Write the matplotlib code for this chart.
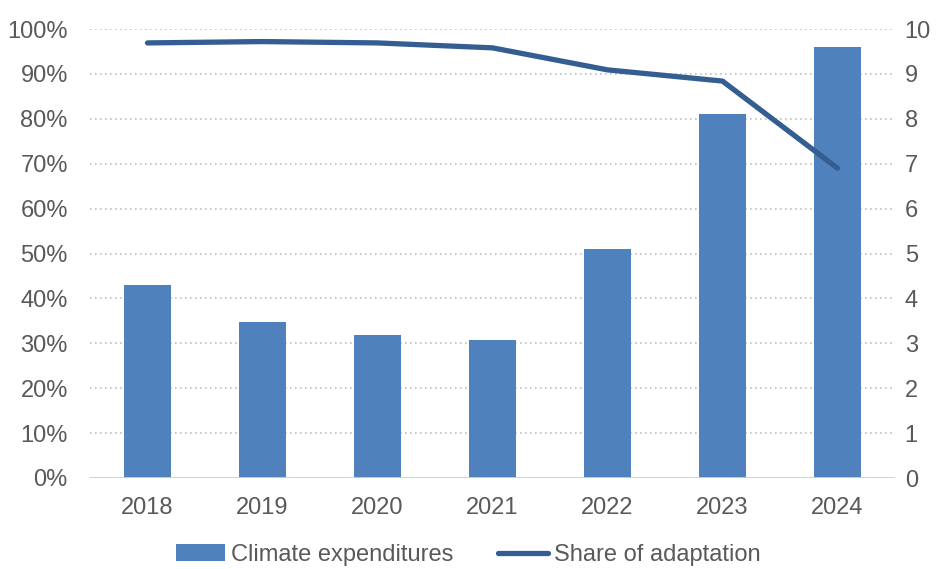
import matplotlib.pyplot as plt
from matplotlib.ticker import PercentFormatter

years = ["2018", "2019", "2020", "2021", "2022", "2023", "2024"]
climate_expenditures = [4.3, 3.47, 3.18, 3.07, 5.1, 8.1, 9.6]
share_of_adaptation = [96.9, 97.2, 96.9, 95.8, 90.9, 88.4, 69.0]

plt.rcParams['font.family'] = ['Liberation Sans', 'DejaVu Sans']
bar_color = '#4F81BD'
line_color = '#345D91'
text_color = '#595959'

fig = plt.figure(figsize=(9.36, 5.69), dpi=100)
ax = fig.add_axes([90 / 936, 1 - 478 / 569, 805 / 936, 449 / 569])
ax2 = ax.twinx()

# bars belong to the right axis, line to the left one
x = list(range(len(years)))
ax2.bar(x, climate_expenditures, width=0.41, color=bar_color, zorder=2,
        label="Climate expenditures")
ax.plot(x, share_of_adaptation, color=line_color, linewidth=3.8,
        solid_capstyle='round', label="Share of adaptation")

ax.set_zorder(ax2.get_zorder() + 1)
ax.patch.set_visible(False)

ax.set_ylim(0, 100)
ax2.set_ylim(0, 10)
ax.set_xlim(-0.5, len(years) - 0.5)
ax.set_yticks(range(0, 101, 10))
ax2.set_yticks(range(0, 11))
ax.yaxis.set_major_formatter(PercentFormatter(decimals=0))
ax.set_xticks(x)
ax.set_xticklabels(years)

for a in (ax, ax2):
    for s in a.spines.values():
        s.set_visible(False)
    a.tick_params(length=0, labelsize=17, labelcolor=text_color)

ax.tick_params(axis='y', pad=16)
ax2.tick_params(axis='y', pad=7)
ax.tick_params(axis='x', pad=14)

ax2.yaxis.grid(True, color='#BFBFBF', linestyle=(0, (1, 2)), linewidth=1.2, zorder=0)
ax2.set_axisbelow(True)
ax2.axhline(0, color='#D0D0D0', linewidth=2, zorder=3)

h1, l1 = ax2.get_legend_handles_labels()
h2, l2 = ax.get_legend_handles_labels()
fig.legend(h1 + h2, l1 + l2, loc='center', bbox_to_anchor=(0.5, 0.025),
           ncol=2, frameon=False, fontsize=17, labelcolor=text_color,
           handlelength=2.1, handletextpad=0.25, columnspacing=1.9)

fig.savefig("out.png", dpi=100)
